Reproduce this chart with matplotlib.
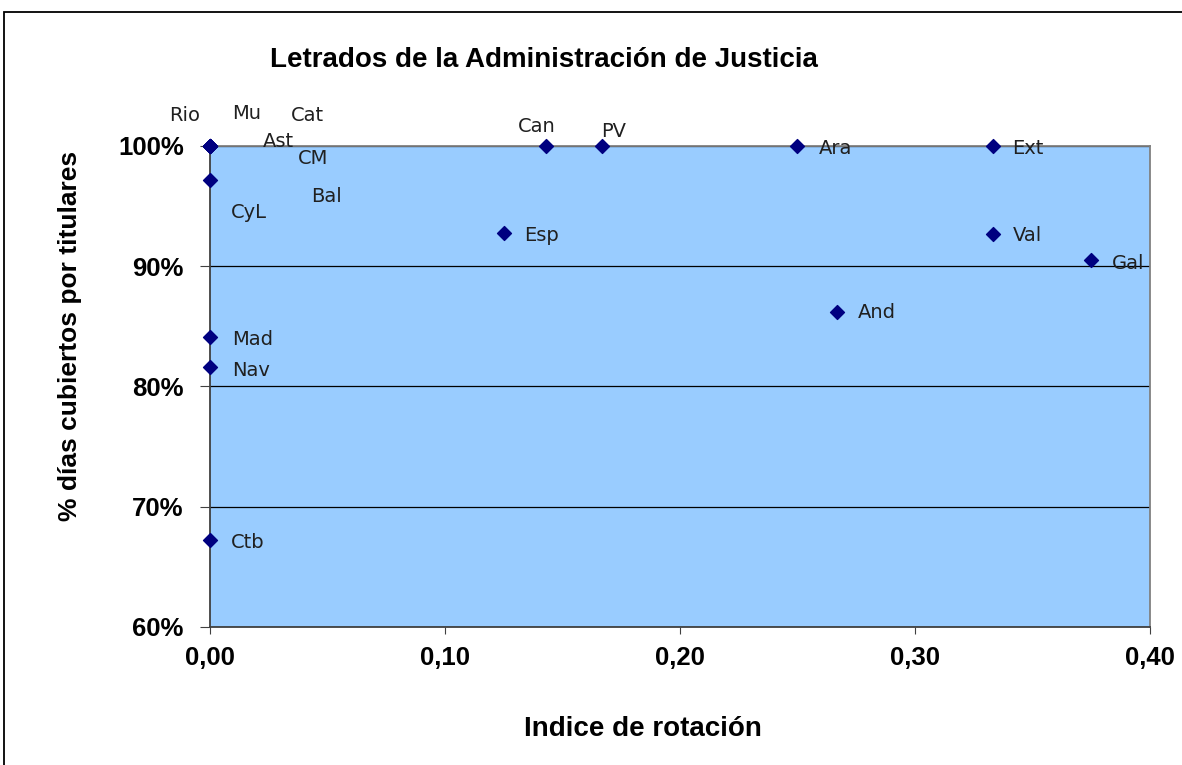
import matplotlib.pyplot as plt
from matplotlib.patches import Rectangle
from matplotlib.ticker import FuncFormatter

# datos
comunidades = ["Rio", "Mu", "Cat", "Ast", "CM", "Bal", "CyL", "Can", "PV", "Ara", "Ext",
               "Esp", "Val", "Gal", "And", "Mad", "Nav", "Ctb"]
rotacion = [0.0, 0.0, 0.0, 0.0, 0.0, 0.0, 0.0, 0.143, 0.167, 0.25, 0.333,
            0.125, 0.333, 0.375, 0.267, 0.0, 0.0, 0.0]
cubiertos = [1.0, 1.0, 1.0, 1.0, 1.0, 1.0, 0.972, 1.0, 1.0, 1.0, 1.0,
             0.928, 0.927, 0.905, 0.862, 0.841, 0.816, 0.672]

# posicion de las etiquetas (pixeles respecto al punto, alineacion horizontal)
offsets = {
    "Rio": (-25, 30, "center"), "Mu": (37, 32, "center"), "Cat": (97, 30, "center"),
    "Ast": (68, 4, "center"), "CM": (103, -13, "center"), "Bal": (116, -51, "center"),
    "CyL": (39, -33, "center"), "Can": (-9, 19, "center"), "PV": (11, 14, "center"),
    "Ara": (21, -3, "left"), "Ext": (20, -3, "left"), "Esp": (20, -3, "left"),
    "Val": (20, -2, "left"), "Gal": (21, -3, "left"), "And": (20, -1, "left"),
    "Mad": (22, -2, "left"), "Nav": (22, -3, "left"), "Ctb": (21, -2, "left"),
}

fig = plt.figure(figsize=(11.82, 7.65), dpi=100)
ax = fig.add_axes([0.1777, 0.1804, 0.9729 - 0.1777, 0.8092 - 0.1804])
ax.set_facecolor("#99CCFF")

ax.scatter(rotacion, cubiertos, marker="D", s=50, color="#000080", zorder=5, clip_on=False)

for nombre, x, y in zip(comunidades, rotacion, cubiertos):
    dx, dy, ha = offsets[nombre]
    ax.annotate(nombre, (x, y), xytext=(dx, dy), textcoords="offset pixels",
                ha=ha, va="center", fontsize=14, color="#202020",
                family="DejaVu Sans", zorder=6, annotation_clip=False)

ax.set_xlim(0, 0.40)
ax.set_ylim(0.60, 1.00)
ax.set_xticks([0, 0.1, 0.2, 0.3, 0.4])
ax.set_yticks([0.6, 0.7, 0.8, 0.9, 1.0])
ax.xaxis.set_major_formatter(FuncFormatter(lambda v, p: f"{v:.2f}".replace(".", ",")))
ax.yaxis.set_major_formatter(FuncFormatter(lambda v, p: f"{v * 100:.0f}%"))
ax.grid(axis="y", color="black", linewidth=0.9)
ax.set_axisbelow(True)

for lab in ax.get_xticklabels() + ax.get_yticklabels():
    lab.set_fontweight("bold")
    lab.set_fontfamily("Liberation Sans")
    lab.set_fontsize(18.5)
ax.tick_params(axis="y", direction="out", length=7, color="#404040", pad=12)
ax.tick_params(axis="x", direction="out", length=5, color="#404040", pad=9)

ax.spines["left"].set_color("#404040")
ax.spines["bottom"].set_color("#404040")
ax.spines["top"].set_color("#808080")
ax.spines["right"].set_color("#808080")
for s in ax.spines.values():
    s.set_linewidth(1.3)

fig.text(0.544, 0.047, "Indice de rotación", ha="center", va="center",
         fontsize=20, fontweight="bold", family="Liberation Sans")
fig.text(0.059, 0.561, "% días cubiertos por titulares", ha="center", va="center",
         rotation=90, fontsize=19, fontweight="bold", family="Liberation Sans")
fig.text(0.460, 0.921, "Letrados de la Administración de Justicia", ha="center", va="center",
         fontsize=20, fontweight="bold", family="Liberation Sans")

# marco exterior
fig.patches.append(Rectangle((4 / 1182, -0.01), 1.1, 1 - 12 / 765 + 0.01,
                             transform=fig.transFigure, fill=False,
                             edgecolor="black", linewidth=1.3))

fig.savefig("out.png", dpi=100)
